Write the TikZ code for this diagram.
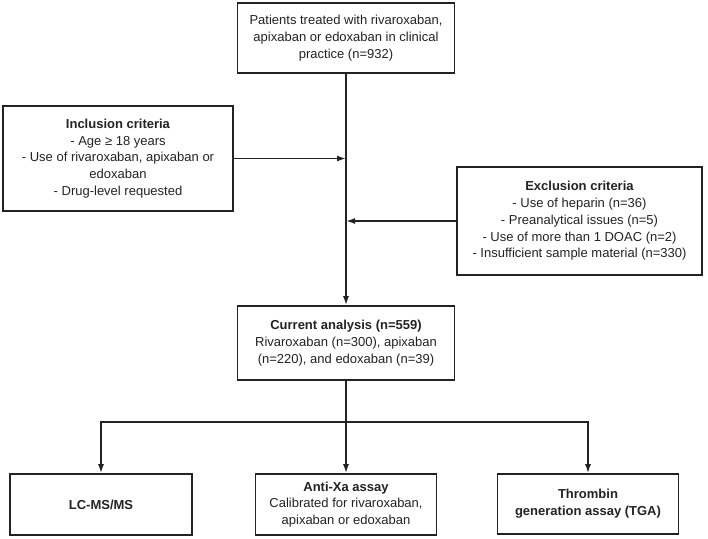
\documentclass[tikz,border=0pt]{standalone}
\usepackage{fontspec}
\setmainfont{Liberation Sans}
\usetikzlibrary{arrows.meta,calc}
\definecolor{ink}{RGB}{35,35,35}
\begin{document}
\begin{tikzpicture}[x=1pt,y=-1pt,
  box/.style={draw=ink,line width=1.6pt,fill=white,align=center,inner sep=2pt,
    font=\fontsize{13}{16.8}\selectfont,text=ink},
  conn/.style={draw=ink,line width=1.6pt},
  arr/.style={conn,-{Latex[length=9pt,width=6pt]}}]
\fill[white] (0,0) rectangle (708,538);
\useasboundingbox (0,0) rectangle (708,538);

\node[box,minimum width=217pt,minimum height=70pt] (top) at (346,38)
  {Patients treated with rivaroxaban,\\apixaban or edoxaban in clinical\\practice (n=932)};
\node[box,minimum width=230pt,minimum height=105pt] (inc) at (118,158.5)
  {\textbf{Inclusion criteria}\\- Age ≥ 18 years\\- Use of rivaroxaban, apixaban or\\edoxaban\\- Drug-level requested};
\node[box,minimum width=245pt,minimum height=108pt] (exc) at (579.5,221)
  {\textbf{Exclusion criteria}\\- Use of heparin (n=36)\\- Preanalytical issues (n=5)\\- Use of more than 1 DOAC (n=2)\\- Insufficient sample material (n=330)};
\node[box,minimum width=217pt,minimum height=74pt] (cur) at (346,343)
  {\textbf{Current analysis (n=559)}\\Rivaroxaban (n=300), apixaban\\(n=220), and edoxaban (n=39)};
\node[box,minimum width=182pt,minimum height=61pt] (lc) at (101,504.5)
  {\textbf{LC-MS/MS}};
\node[box,minimum width=181pt,minimum height=61pt] (xa) at (346,504.5)
  {\textbf{Anti-Xa assay}\\Calibrated for rivaroxaban,\\apixaban or edoxaban};
\node[box,minimum width=181pt,minimum height=60pt] (tga) at (588,504)
  {\textbf{Thrombin}\\\textbf{generation assay (TGA)}};

\coordinate (jin) at (top.south |- inc.east);
\coordinate (jex) at (top.south |- exc.west);
\coordinate (split) at (346,422);
\coordinate (sl) at (lc.north |- split);
\coordinate (sr) at (tga.north |- split);

\draw[arr] (top.south) -- (cur.north);
\draw[arr] (inc.east) -- (jin);
\draw[arr] (exc.west) -- (jex);
\draw[conn] (cur.south) -- (split);
\draw[conn,line cap=rect] (sl) -- (sr);
\draw[arr] (sl) -- (lc.north);
\draw[arr] (split) -- (xa.north);
\draw[arr] (sr) -- (tga.north);
\end{tikzpicture}
\end{document}
